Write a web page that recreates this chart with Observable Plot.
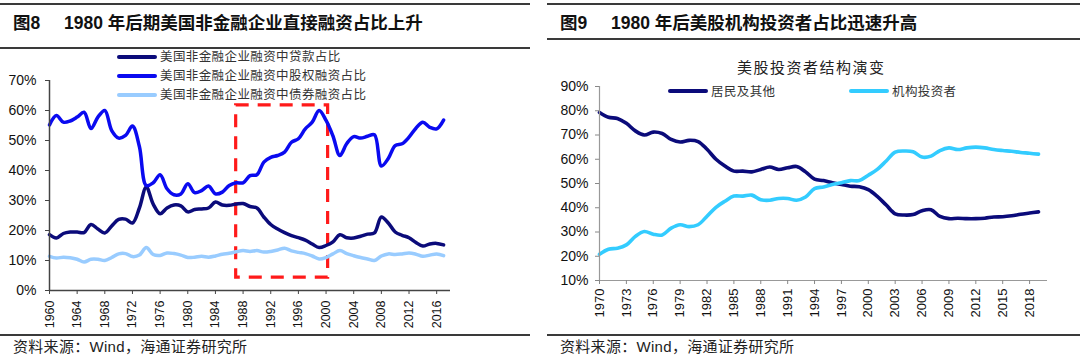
<!DOCTYPE html>
<html>
<head>
<meta charset="utf-8">
<script src="https://cdn.jsdelivr.net/npm/d3@7"></script>
<script src="https://cdn.jsdelivr.net/npm/@observablehq/plot@0.6"></script>
<style>
  body { margin:0; width:1080px; height:359px; position:relative; background:#fff; overflow:hidden;
         font-family:"Liberation Sans","Noto Sans CJK SC",sans-serif; }
  .abs { position:absolute; }
  .rule { position:absolute; height:2px; background:#3a3a3a; }
  .title { position:absolute; font-size:17.5px; font-weight:bold; color:#111; line-height:20px; white-space:nowrap;
           font-family:"Liberation Sans","Noto Sans CJK SC",sans-serif; }
  .src { position:absolute; font-size:15px; color:#222; line-height:18px; white-space:nowrap; letter-spacing:0.3px;
         font-family:"Liberation Sans","Noto Sans CJK SC",sans-serif; }
  .leg { position:absolute; font-size:12.5px; color:#333; line-height:14px; white-space:nowrap; letter-spacing:0.4px;
         font-family:"Noto Sans CJK SC",sans-serif; }
  .legline { position:absolute; height:4px; border-radius:2px; }
  .sub { position:absolute; font-size:15px; color:#222; line-height:18px; white-space:nowrap; letter-spacing:1.5px;
         font-family:"Noto Sans CJK SC",sans-serif; }
</style>
</head>
<body>
<script>
// ---------- Figure 8 data (share of US non-financial corporate financing, %) ----------
const years1 = [1960,1961,1962,1963,1964,1965,1966,1967,1968,1969,
                1970,1971,1972,1973,1974,1975,1976,1977,1978,1979,
                1980,1981,1982,1983,1984,1985,1986,1987,1988,1989,
                1990,1991,1992,1993,1994,1995,1996,1997,1998,1999,
                2000,2001,2002,2003,2004,2005,2006,2007,2008,2009,
                2010,2011,2012,2013,2014,2015,2016,2017];
const loanShare = [18.6,17.5,19.0,19.5,19.5,19.3,22.0,20.5,19.2,21.5,
                   23.7,23.8,22.5,27.5,34.5,28.8,25.6,27.5,28.5,28.2,
                   26.2,27.0,27.2,27.5,29.5,28.5,28.4,28.8,29.0,28.0,
                   27.5,24.5,22.0,20.5,19.3,18.3,17.6,16.8,15.5,14.3,
                   15.0,16.2,18.6,17.6,17.5,18.1,18.8,19.2,24.5,22.5,
                   19.5,18.4,17.6,16.0,14.8,15.5,15.7,15.2];
const equityShare = [55.2,58.3,56.1,56.5,57.8,59.4,54.0,57.8,60.0,53.3,
                     50.8,51.7,54.8,48.0,35.0,35.9,38.6,33.9,31.9,32.2,
                     35.6,32.6,33.3,34.8,32.2,32.8,35.0,35.9,35.9,38.3,
                     38.6,42.8,44.4,45.0,46.1,49.4,50.6,53.9,56.1,60.0,
                     56.7,51.5,45.0,49.0,51.3,50.8,51.4,51.9,41.5,44.0,
                     48.3,48.9,51.1,54.1,56.1,54.4,53.9,56.8];
const bondShare = [11.4,10.8,11.1,10.9,10.4,9.5,10.4,10.4,10.0,11.0,
                   12.2,12.3,11.3,11.8,14.3,12.0,11.7,12.5,12.3,11.8,
                   11.0,11.1,11.4,11.1,11.5,12.1,12.4,12.9,13.3,13.0,
                   13.3,12.8,13.0,13.5,14.1,13.2,12.7,12.3,11.5,10.5,
                   11.0,12.2,13.3,12.3,11.6,11.0,10.5,10.0,11.5,12.2,
                   12.0,12.2,12.5,12.1,11.4,11.8,12.2,11.6];
const seriesNames1 = ["美国非金融企业融资中贷款占比","美国非金融企业融资中股权融资占比","美国非金融企业融资中债券融资占比"];
const yTicks1 = [0,10,20,30,40,50,60,70];
const xTicks1 = [1960,1964,1968,1972,1976,1980,1984,1988,1992,1996,2000,2004,2008,2012,2016];
const highlightBox = [{x1: 1987, x2: 2000.3, y1: 4.3, y2: 61.7}];

// ---------- Figure 9 data (US equity investor structure, %) ----------
const years2 = [1970,1971,1972,1973,1974,1975,1976,1977,1978,1979,
                1980,1981,1982,1983,1984,1985,1986,1987,1988,1989,
                1990,1991,1992,1993,1994,1995,1996,1997,1998,1999,
                2000,2001,2002,2003,2004,2005,2006,2007,2008,2009,
                2010,2011,2012,2013,2014,2015,2016,2017,2018,2019];
const householdShare = [79.3,77.3,76.8,74.8,71.7,70.0,71.2,70.6,68.2,67.1,
                        67.8,67.3,64.1,60.0,57.2,55.1,55.1,54.8,55.8,56.8,
                        55.8,56.5,57.0,54.8,51.8,51.2,50.3,49.6,48.9,48.7,
                        47.5,44.7,41.1,37.5,37.0,37.2,38.8,39.2,36.4,35.5,
                        35.7,35.5,35.5,35.7,36.2,36.3,36.7,37.3,37.8,38.3];
const institutionShare = [20.8,22.9,23.3,24.7,28.2,30.2,29.1,28.8,31.6,33.0,
                          32.2,33.0,36.5,40.2,42.7,44.8,44.8,45.2,43.3,43.1,
                          43.8,43.8,43.1,44.4,47.9,48.6,49.6,50.3,51.2,51.2,
                          53.4,55.8,59.3,62.9,63.4,63.1,60.9,61.3,63.6,64.7,
                          64.0,64.7,65.0,64.7,64.0,63.6,63.3,62.8,62.5,62.1];
const seriesNames2 = ["居民及其他","机构投资者"];
const yTicks2 = [10,20,30,40,50,60,70,80,90];
const xTicks2 = [1970,1973,1976,1979,1982,1985,1988,1991,1994,1997,2000,2003,2006,2009,2012,2015,2018];

const colors1 = ["#0b0b7a","#0a0af0","#99ccff"];
const colors2 = ["#0b0b7a","#33ccff"];

function add(html){ document.body.insertAdjacentHTML("beforeend", html); }

// ---------- headers & footers ----------
add(`<div class="rule" style="left:0;top:3px;width:530px"></div>
<div class="title" style="left:13px;top:13px">图8</div>
<div class="title" style="left:64px;top:13px">1980 年后期美国非金融企业直接融资占比上升</div>
<div class="rule" style="left:0;top:47px;width:530px;height:1.5px"></div>
<div class="rule" style="left:0;top:334px;width:530px;height:1.5px"></div>
<div class="src" style="left:13px;top:338px">资料来源：Wind，海通证券研究所</div>

<div class="rule" style="left:547px;top:3px;width:533px"></div>
<div class="title" style="left:560px;top:13px">图9</div>
<div class="title" style="left:611px;top:13px">1980 年后美股机构投资者占比迅速升高</div>
<div class="rule" style="left:547px;top:38px;width:533px;height:1.5px"></div>
<div class="rule" style="left:547px;top:334px;width:533px;height:1.5px"></div>
<div class="src" style="left:560px;top:338px">资料来源：Wind，海通证券研究所</div>`);

// ---------- Figure 8 chart ----------
const rows1 = [];
years1.forEach((y, i) => {
  rows1.push({year: y, value: loanShare[i], series: seriesNames1[0]});
  rows1.push({year: y, value: equityShare[i], series: seriesNames1[1]});
  rows1.push({year: y, value: bondShare[i], series: seriesNames1[2]});
});

const chart1 = Plot.plot({
  width: 540, height: 280,
  marginLeft: 49, marginRight: 90, marginTop: 30, marginBottom: 40,
  x: {domain: [1960, 2018]},
  y: {domain: [0, 70]},
  color: {domain: seriesNames1, range: colors1},
  style: {fontFamily: "Liberation Sans, Arial, sans-serif", color: "#111", background: "transparent", overflow: "visible"},
  marks: [
    Plot.rect(highlightBox, {x1: "x1", x2: "x2", y1: "y1", y2: "y2", fill: "none", stroke: "#ff1a1a", strokeWidth: 3.2, strokeDasharray: "13,9"}),
    Plot.line(rows1.filter(d => d.series === seriesNames1[2]), {x: "year", y: "value", stroke: "series", strokeWidth: 3.5, curve: "catmull-rom"}),
    Plot.line(rows1.filter(d => d.series === seriesNames1[0]), {x: "year", y: "value", stroke: "series", strokeWidth: 3.5, curve: "catmull-rom"}),
    Plot.line(rows1.filter(d => d.series === seriesNames1[1]), {x: "year", y: "value", stroke: "series", strokeWidth: 3.5, curve: "catmull-rom"}),
    Plot.ruleX([1960], {y1: 0, y2: 70, stroke: "#444", strokeWidth: 1.5}),
    Plot.ruleY([0], {x1: 1960, x2: 2018, stroke: "#444", strokeWidth: 1.5}),
    Plot.axisY(yTicks1, {tickFormat: d => d + "%", tickSize: 4, tickPadding: 9, fontSize: 14, stroke: "#444", fill: "#111", label: null}),
    Plot.axisX(xTicks1, {tickFormat: d => String(d), tickSize: 4, tickPadding: 6, tickRotate: -90, fontSize: 12.5, stroke: "#444", fill: "#111", label: null})
  ]
});
chart1.style.position = "absolute";
chart1.style.left = "0px";
chart1.style.top = "50px";
document.body.appendChild(chart1);

// legend 1
const legY1 = [57, 76, 95];
seriesNames1.forEach((n, i) => {
  add(`<div class="legline" style="left:117px;top:${legY1[i]-2}px;width:40px;background:${colors1[i]}"></div>
       <div class="leg" style="left:160px;top:${legY1[i]-8}px">${n}</div>`);
});

// ---------- Figure 9 chart ----------
const rows2 = [];
years2.forEach((y, i) => {
  rows2.push({year: y, value: householdShare[i], series: seriesNames2[0]});
  rows2.push({year: y, value: institutionShare[i], series: seriesNames2[1]});
});

const chart2 = Plot.plot({
  width: 540, height: 280,
  marginLeft: 59, marginRight: 33, marginTop: 36, marginBottom: 50,
  x: {domain: [1970, 2020]},
  y: {domain: [10, 90]},
  color: {domain: seriesNames2, range: colors2},
  style: {fontFamily: "Liberation Sans, Arial, sans-serif", color: "#111", background: "transparent", overflow: "visible"},
  marks: [
    Plot.line(rows2, {x: "year", y: "value", stroke: "series", z: "series", strokeWidth: 3.6, curve: "catmull-rom"}),
    Plot.ruleX([1970], {y1: 10, y2: 90, stroke: "#999", strokeWidth: 1.2}),
    Plot.ruleY([10], {x1: 1970, x2: 2020, stroke: "#999", strokeWidth: 1.2}),
    Plot.axisY(yTicks2, {tickFormat: d => d + "%", tickSize: 4, tickPadding: 7, fontSize: 14, stroke: "#888", fill: "#111", label: null}),
    Plot.axisX(xTicks2, {tickFormat: d => String(d), tickSize: 4, tickPadding: 4, tickRotate: -90, fontSize: 13, stroke: "#888", fill: "#111", label: null})
  ]
});
chart2.style.position = "absolute";
chart2.style.left = "540px";
chart2.style.top = "50px";
document.body.appendChild(chart2);

add(`<div class="sub" style="left:737px;top:58px">美股投资者结构演变</div>`);
const legX2 = [668, 849];
seriesNames2.forEach((n, i) => {
  add(`<div class="legline" style="left:${legX2[i]}px;top:89px;width:40px;background:${colors2[i]}"></div>
       <div class="leg" style="left:${legX2[i]+43}px;top:84px">${n}</div>`);
});
</script>
</body>
</html>
